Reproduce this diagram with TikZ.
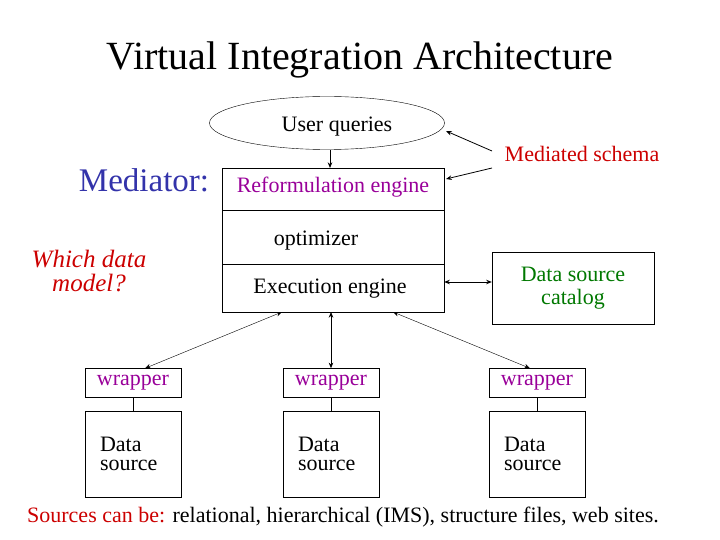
\documentclass[tikz,border=0pt]{standalone}
\usepackage{fontspec}
\setmainfont{Liberation Serif}
\setsansfont{Liberation Serif}
\usetikzlibrary{arrows.meta,positioning,shapes.geometric}
\definecolor{medblue}{RGB}{51,51,170}
\definecolor{magentab}{RGB}{153,0,153}
\definecolor{redt}{RGB}{204,0,0}
\definecolor{greent}{RGB}{0,120,0}
\newcommand\fsz[1]{\fontsize{#1}{#1}\selectfont}
\tikzset{%
  >={Stealth[width=1.6mm,length=2mm]},
  % Specifications for style of nodes:
  box/.style = {rectangle, draw=black, inner sep=0pt},
  wrap/.style = {box, minimum width=96pt, minimum height=29pt, text=magentab},
  source/.style = {box, minimum width=96pt, minimum height=86pt,
    align=left, text width=66pt},
}
\begin{document}
\begin{tikzpicture}[x=1pt,y=-1pt]
  \useasboundingbox (0,0) rectangle (720,540);
  % title
  \node(Title) at (360,60) {\fsz{40}Virtual Integration Architecture};
  % mediator
  \node(Users)[ellipse, draw, minimum width=235pt, minimum height=53pt] at (327,123) {};
  \node(UQ) at (337,127) {\fsz{22}User queries};
  \node(Med)[box, minimum width=222pt, minimum height=144pt] at (333,240) {};
  \draw (222,210) -- (444,210);
  \draw (222,264) -- (444,264);
  \node(Reform)[text=magentab] at (333,187) {\fsz{22}Reformulation engine};
  \node(Opt) at (316,241) {\fsz{22}optimizer};
  \node(Exec) at (330,289) {\fsz{22}Execution engine};
  \node(Mediator)[text=medblue] at (144,180) {\fsz{33}Mediator:};
  \node(Model)[text=redt, align=center] at (89,271) {\fsz{25}\itshape Which data\\[6pt]\fsz{25}\itshape model?};
  \node(Schema)[text=redt] at (582,154) {\fsz{22}Mediated schema};
  \node(Catalog)[box, minimum width=162pt, minimum height=72pt, text=greent, align=center] at (573,288) {\fsz{22}Data source\\[6pt]\fsz{22}catalog};
  % wrappers and sources
  \node(W1)[wrap] at (133,383) {\fsz{22}wrapper};
  \node(W2)[wrap] at (331,383) {\fsz{22}wrapper};
  \node(W3)[wrap] at (537,383) {\fsz{22}wrapper};
  \node(S1)[source] at (133,454) {\fsz{22}Data\\[7pt]\fsz{22}source};
  \node(S2)[source] at (331,454) {\fsz{22}Data\\[7pt]\fsz{22}source};
  \node(S3)[source] at (537,454) {\fsz{22}Data\\[7pt]\fsz{22}source};
  \foreach \i in {1,2,3} \draw (W\i) -- (S\i);
  \node(Note) at (343,517) {\fsz{22}\textcolor{redt}{Sources can be:} relational, hierarchical (IMS), structure files, web sites.};
  % connectors
  \draw[->, thick] (330,150) -- (330,168);
  \draw[->, thick] (492,151) -- (446,131);
  \draw[->, thick] (492,168) -- (446,179);
  \draw[<->, thick] (Med.east |- 0,282) -- (Catalog.west |- 0,282);
  \draw[<->] (282,312) -- (W1.north -| 145,0);
  \draw[<->, thick] (331,312) -- (W2.north);
  \draw[<->] (393,312) -- (W3.north -| 530,0);
\end{tikzpicture}
\end{document}
